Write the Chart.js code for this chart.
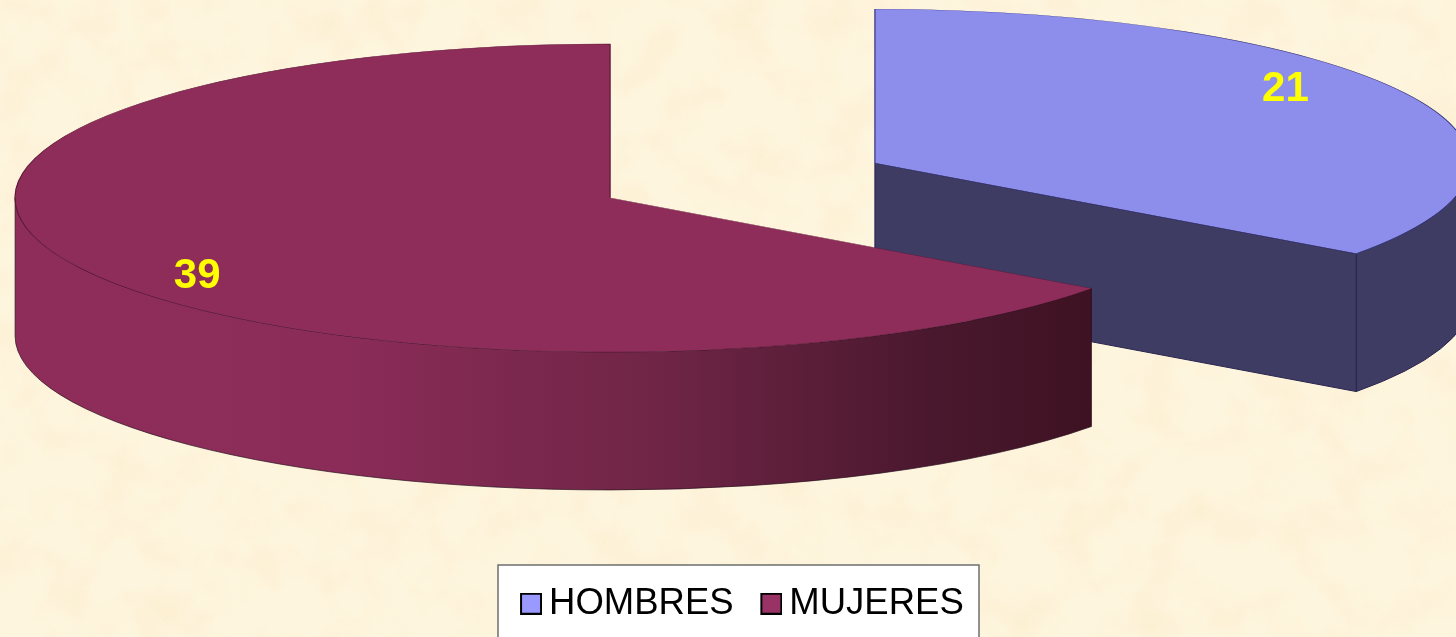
<!DOCTYPE html>
<html lang="es">
<head>
<meta charset="utf-8">
<title>Hombres y mujeres</title>
<style>
html,body{margin:0;padding:0;width:1456px;height:637px;overflow:hidden;background:#FDF3DA}
#tex{position:absolute;left:0;top:0;width:1456px;height:637px}
#c{position:absolute;left:0;top:0}
</style>
<script src="https://cdn.jsdelivr.net/npm/chart.js@4/dist/chart.umd.js"></script>
</head>
<body>
<svg id="tex" xmlns="http://www.w3.org/2000/svg">
  <filter id="paper" x="0" y="0" width="100%" height="100%">
    <feTurbulence type="fractalNoise" baseFrequency="0.022" numOctaves="4" seed="7"/>
    <feColorMatrix type="matrix" values="0 0 0 0 0.96  0 0 0 0 0.82  0 0 0 0 0.56  1.6 0 0 0 -0.68"/>
  </filter>
  <rect width="1456" height="637" fill="#FEF5DE"/>
  <rect width="1456" height="637" filter="url(#paper)" opacity="0.6"/>
</svg>
<canvas id="c" width="1456" height="637"></canvas>
<script>
const categories = ['HOMBRES', 'MUJERES'];
const values = [21, 39];
const topColors = ['#8D8EEC', '#8F2D5A'];
const borderColors = ['#34327A', '#5E1538'];
const legendColors = ['#9999FF', '#993366'];
const labelColor = '#FFFF00';

const TILT = 0.2588, DEPTH = 138, EXPLODE = 148.6, RADIUS = 595;
const PIE_X = 742.5, PIE_Y = 180.5;

function swatch(color) {
  const s = document.createElement('canvas');
  s.width = 24; s.height = 22;
  const g = s.getContext('2d');
  g.fillStyle = color; g.fillRect(3, 1, 20, 20);
  g.strokeStyle = '#000'; g.lineWidth = 2; g.strokeRect(3, 1, 20, 20);
  return s;
}

function centreOf(arc) {
  const mid = (arc.startAngle + arc.endAngle) / 2;
  return {
    x: PIE_X + Math.cos(mid) * EXPLODE,
    y: PIE_Y + Math.sin(mid) * EXPLODE * TILT
  };
}

function wallPath(ctx, c, arc, a0, a1) {
  const rx = arc.outerRadius, ry = arc.outerRadius * TILT;
  ctx.beginPath();
  ctx.ellipse(c.x, c.y, rx, ry, 0, a0, a1);
  ctx.ellipse(c.x, c.y + DEPTH, rx, ry, 0, a1, a0, true);
  ctx.closePath();
}

function drawSlice(ctx, arc, i) {
  const c = centreOf(arc);
  const rx = arc.outerRadius, ry = arc.outerRadius * TILT;
  const visFrom = Math.max(arc.startAngle, 0);
  const visTo = Math.min(arc.endAngle, Math.PI);
  ctx.save();
  if (i === 0) {
    const ex = c.x + Math.cos(arc.endAngle) * rx;
    const ey = c.y + Math.sin(arc.endAngle) * ry;
    ctx.fillStyle = '#3F3C63';
    wallPath(ctx, c, arc, visFrom, visTo);
    ctx.fill();
    ctx.strokeStyle = '#26244F'; ctx.lineWidth = 1; ctx.stroke();
    ctx.beginPath();
    ctx.moveTo(c.x, c.y); ctx.lineTo(ex, ey);
    ctx.lineTo(ex, ey + DEPTH); ctx.lineTo(c.x, c.y + DEPTH);
    ctx.closePath();
    ctx.fill();
    ctx.stroke();
  } else {
    const g = ctx.createLinearGradient(c.x - rx, 0, c.x + Math.cos(arc.startAngle) * rx, 0);
    g.addColorStop(0, '#8F2D5A');
    g.addColorStop(0.3, '#8B2C58');
    g.addColorStop(0.6, '#6F2546');
    g.addColorStop(0.85, '#4A182E');
    g.addColorStop(1, '#3E1222');
    ctx.fillStyle = g;
    wallPath(ctx, c, arc, visFrom, visTo);
    ctx.fill();
    ctx.strokeStyle = 'rgba(40,15,30,0.7)'; ctx.lineWidth = 1; ctx.stroke();
  }
  ctx.translate(c.x, c.y);
  ctx.scale(1, TILT);
  ctx.translate(-arc.x, -arc.y);
  arc.draw(ctx);
  ctx.restore();
}

const pie3d = {
  id: 'pie3d',
  beforeDraw(chart) {
    const ctx = chart.ctx;
    ctx.save();
    ctx.fillStyle = '#FFFFFF';
    ctx.strokeStyle = '#6E6E6E';
    ctx.lineWidth = 1.5;
    ctx.fillRect(498, 565, 481, 90);
    ctx.strokeRect(498, 565, 481, 90);
    ctx.restore();
  },
  beforeDatasetDraw(chart, args) {
    const ctx = chart.ctx;
    const arcs = chart.getDatasetMeta(args.index).data;
    arcs.forEach((arc, i) => drawSlice(ctx, arc, i));
    ctx.save();
    ctx.fillStyle = labelColor;
    ctx.font = 'bold 42px "Liberation Sans", Arial, sans-serif';
    ctx.textAlign = 'center';
    ctx.textBaseline = 'middle';
    arcs.forEach((arc, i) => {
      const c = centreOf(arc);
      const a = (arc.startAngle + arc.endAngle) / 2 - 8.5 * Math.PI / 180;
      const r = arc.outerRadius * 0.85;
      ctx.fillText(String(values[i]), c.x + Math.cos(a) * r - 1.2, c.y + Math.sin(a) * r * TILT + 2.5);
    });
    ctx.restore();
    return false;
  }
};

new Chart(document.getElementById('c'), {
  type: 'pie',
  data: {
    labels: categories,
    datasets: [{
      data: values,
      backgroundColor: topColors,
      borderColor: borderColors,
      borderWidth: 1.2
    }]
  },
  options: {
    responsive: false,
    animation: false,
    radius: RADIUS,
    layout: { padding: { left: 37, bottom: 5 } },
    plugins: {
      tooltip: { enabled: false },
      legend: {
        position: 'bottom',
        labels: {
          usePointStyle: true,
          pointStyleWidth: 1.5,
          boxHeight: 20,
          padding: 36,
          color: '#000000',
          font: { family: '"Liberation Sans", Arial, sans-serif', size: 36.5 },
          generateLabels(chart) {
            return chart.data.labels.map((text, i) => ({
              text, index: i, hidden: false,
              fillStyle: legendColors[i], strokeStyle: '#000', lineWidth: 2,
              pointStyle: swatch(legendColors[i])
            }));
          }
        }
      }
    }
  },
  plugins: [pie3d]
});
</script>
</body>
</html>
